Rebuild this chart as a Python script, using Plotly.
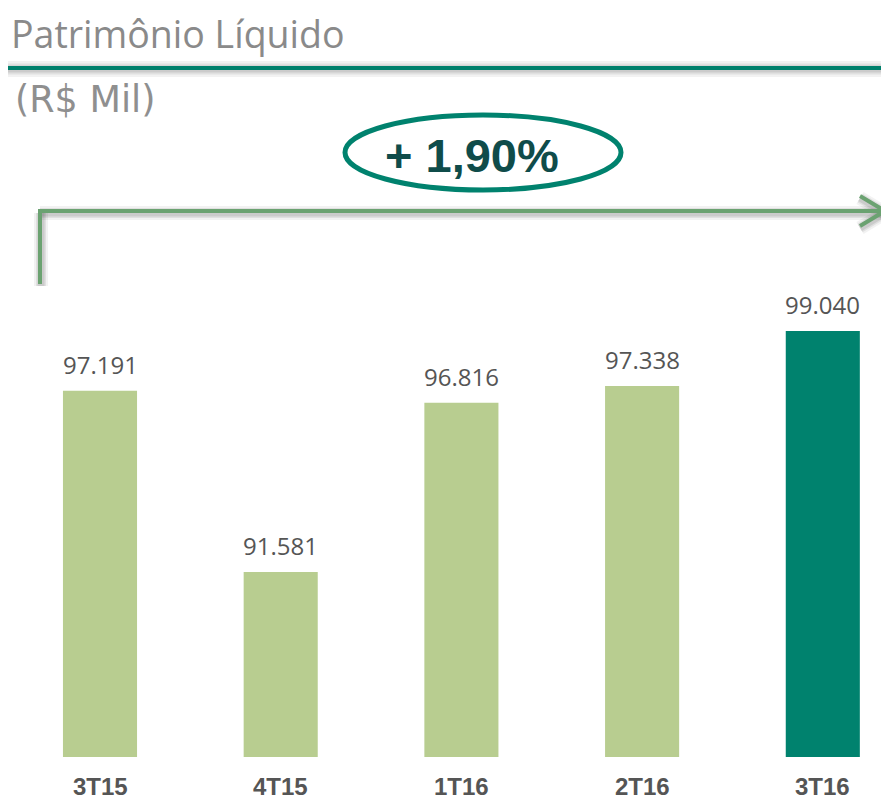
import plotly.graph_objects as go

categories = ["3T15", "4T15", "1T16", "2T16", "3T16"]
values = [97191, 91581, 96816, 97338, 99040]
bar_colors = ["#b8cd90", "#b8cd90", "#b8cd90", "#b8cd90", "#00826e"]
title_text = "Patrimônio Líquido"
unit_text = "(R$ Mil)"
growth_text = "+ 1,90%"

# browser body margin of 8px: figure occupies screen pixels 8..889 x 8..800
OFF = 8
SW, SH = 889, 800
W, H = SW - OFF, SH - OFF
labels = [f"{v:,}".replace(",", ".") for v in values]

fig = go.Figure()
fig.add_trace(go.Bar(
    x=categories, y=values, marker=dict(color=bar_colors, line=dict(width=0)),
    width=0.41, hoverinfo="skip", showlegend=False,
))
# invisible trace on the pixel-coordinate helper axes
fig.add_trace(go.Scatter(x=[100], y=[100], xaxis="x2", yaxis="y2", mode="markers",
                         marker=dict(opacity=0), hoverinfo="skip", showlegend=False))

annotations = []
for c, v, t in zip(categories, values, labels):
    annotations.append(dict(x=c, y=v, xref="x", yref="y", text=t, showarrow=False,
                            yanchor="bottom", yshift=8,
                            font=dict(family="Open Sans", size=24, color="#555555")))
for c in categories:
    annotations.append(dict(x=c, y=786, xref="x", yref="y2", text=f"<b>{c}</b>", showarrow=False,
                            yanchor="middle",
                            font=dict(family="Liberation Sans", size=24, color="#555555")))

annotations += [
    dict(x=9, y=33, xref="x2", yref="y2", text=title_text, showarrow=False,
         xanchor="left", yanchor="middle",
         font=dict(family="Open Sans", size=37.5, color="#8a8a8a")),
    dict(x=13, y=99, xref="x2", yref="y2", text=unit_text, showarrow=False,
         xanchor="left", yanchor="middle",
         font=dict(family="DejaVu Sans", size=36.5, color="#8f8f8f")),
    dict(x=472, y=155.5, xref="x2", yref="y2", text=f"<b>{growth_text}</b>", showarrow=False,
         xanchor="center", yanchor="middle",
         font=dict(family="Liberation Sans", size=47, color="#0f4c4a")),
]

shapes = []
def line(x0, y0, x1, y1, color, width):
    shapes.append(dict(type="line", xref="x2", yref="y2", x0=x0, y0=y0, x1=x1, y1=y1,
                       line=dict(color=color, width=width), layer="above"))

# header rule with soft shadow
for w, a in [(16, 0.05), (11, 0.07), (7, 0.09)]:
    line(2, 69, 889, 69, f"rgba(0,0,0,{a})", w)
line(5, 68, 889, 68, "#00806c", 4)

# growth arrow with soft shadow
arrow_col = "#6ba271"
for w, a in [(14, 0.05), (10, 0.07), (7, 0.09)]:
    line(40, 213, 882, 213, f"rgba(0,0,0,{a})", w)
    line(41, 213, 41, 286, f"rgba(0,0,0,{a})", w)
    line(860, 198, 885, 213, f"rgba(0,0,0,{a})", w)
    line(860, 228, 885, 213, f"rgba(0,0,0,{a})", w)
line(38, 211, 883, 211, arrow_col, 4)
line(40, 209, 40, 284, arrow_col, 4)
line(860, 196, 885, 211, arrow_col, 4)
line(860, 226, 885, 211, arrow_col, 4)

# ellipse
shapes.append(dict(type="circle", xref="x2", yref="y2", x0=345, x1=621, y0=115, y1=190,
                   line=dict(color="#00826e", width=5), layer="above"))

bottom_px = 757  # screen y of bar baseline
cx0, step = 100, 180.7  # screen x of first bar centre, spacing
px_per_unit = 32.3 / 1000
fig.update_layout(
    template="none",
    width=W, height=H,
    margin=dict(l=0, r=0, t=0, b=0),
    paper_bgcolor="white", plot_bgcolor="rgba(0,0,0,0)",
    xaxis=dict(domain=[0, 1], range=[(OFF - cx0) / step, (SW - cx0) / step],
               showgrid=False, zeroline=False, showline=False, ticks="",
               showticklabels=False, automargin=False, fixedrange=True),
    yaxis=dict(domain=[(SH - bottom_px) / H, 1],
               range=[85850, 85850 + (bottom_px - OFF) / px_per_unit],
               visible=False, automargin=False, fixedrange=True),
    xaxis2=dict(domain=[0, 1], range=[OFF, SW], visible=False, anchor="y2", automargin=False),
    yaxis2=dict(domain=[0, 1], range=[SH, OFF], visible=False, anchor="x2", automargin=False),
    annotations=annotations,
    shapes=shapes,
)

fig.write_html("out.html")
